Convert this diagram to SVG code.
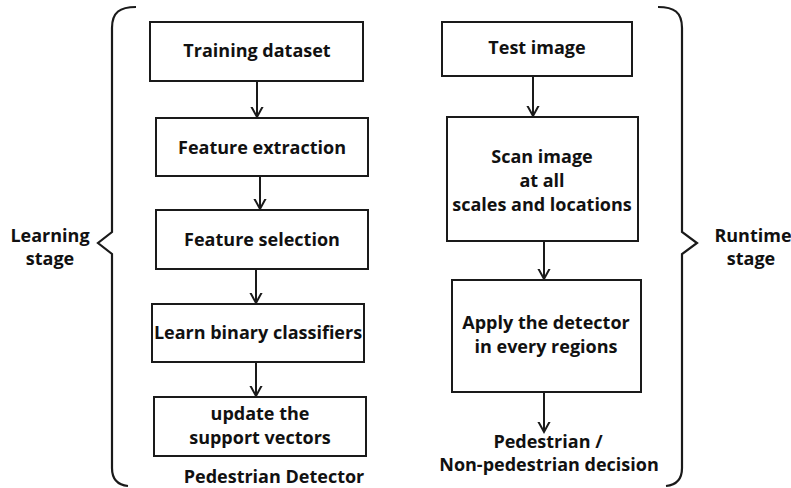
<svg xmlns="http://www.w3.org/2000/svg" width="791" height="488" viewBox="0 0 791 488">
<defs>
<style>
.box{fill:#fff;stroke:#1a1a1a;stroke-width:2}
.t{font-family:"Open Sans","Liberation Sans",sans-serif;font-weight:bold;font-size:18px;fill:#111;text-anchor:middle}
.ln{fill:none;stroke:#1a1a1a;stroke-width:2}
.br{fill:none;stroke:#1a1a1a;stroke-width:2.2;stroke-linejoin:miter}
</style>
<marker id="ah" markerUnits="userSpaceOnUse" markerWidth="20" markerHeight="20" viewBox="-10 -12 20 20" refX="0" refY="0" orient="auto-start-reverse">
<path d="M-11,-6 L0,0 L-11,6" fill="none" stroke="#1a1a1a" stroke-width="2"/>
</marker>
</defs>
<rect width="791" height="488" fill="#fff"/>
<g id="connectors">
<line class="ln" x1="257" y1="81" x2="257" y2="117" marker-end="url(#ah)"/>
<line class="ln" x1="260" y1="176" x2="260" y2="209" marker-end="url(#ah)"/>
<line class="ln" x1="256" y1="269" x2="256" y2="303" marker-end="url(#ah)"/>
<line class="ln" x1="256" y1="362" x2="256" y2="396" marker-end="url(#ah)"/>
<line class="ln" x1="533" y1="76" x2="533" y2="116" marker-end="url(#ah)"/>
<line class="ln" x1="544" y1="241" x2="544" y2="279" marker-end="url(#ah)"/>
<line class="ln" x1="544" y1="392" x2="544" y2="432" marker-end="url(#ah)"/>
</g>
<g id="left-brace">
<path class="br" d="M136,7 C120,7 112,12 112,28 L112,232 L98,243 L112,254 L112,468 C112,480 118,485 128,486"/>
<text class="t" x="50" y="242">Learning</text>
<text class="t" x="50" y="265">stage</text>
</g>
<g id="right-brace">
<path class="br" d="M658,7 C674,7 682,12 682,28 L682,232 L697,243 L682,254 L682,468 C682,480 676,485 666,486"/>
<text class="t" x="753" y="242">Runtime</text>
<text class="t" x="751" y="265">stage</text>
</g>
<g id="n1"><rect class="box" x="150" y="22" width="213" height="59"/><text class="t" x="257" y="57">Training dataset</text></g>
<g id="n2"><rect class="box" x="156" y="118" width="212" height="58"/><text class="t" x="262" y="154">Feature extraction</text></g>
<g id="n3"><rect class="box" x="156" y="210" width="212" height="59"/><text class="t" x="262" y="246">Feature selection</text></g>
<g id="n4"><rect class="box" x="152" y="304" width="212" height="58"/><text class="t" x="258" y="339">Learn binary classifiers</text></g>
<g id="n5"><rect class="box" x="154" y="397" width="212" height="59"/><text class="t" x="260" y="420">update the</text><text class="t" x="260" y="444">support vectors</text></g>
<g id="n5-label"><text class="t" x="274" y="483">Pedestrian Detector</text></g>
<g id="n6"><rect class="box" x="442" y="22" width="190" height="54"/><text class="t" x="537" y="54">Test image</text></g>
<g id="n7"><rect class="box" x="447" y="117" width="191" height="124"/><text class="t" x="542" y="163">Scan image</text><text class="t" x="542" y="187">at all</text><text class="t" x="542" y="211">scales and locations</text></g>
<g id="n8"><rect class="box" x="452" y="280" width="189" height="112"/><text class="t" x="546" y="329">Apply the detector</text><text class="t" x="546" y="353">in every regions</text></g>
<g id="n9"><text class="t" x="548" y="448">Pedestrian /</text><text class="t" x="549" y="471">Non-pedestrian decision</text></g>
</svg>
